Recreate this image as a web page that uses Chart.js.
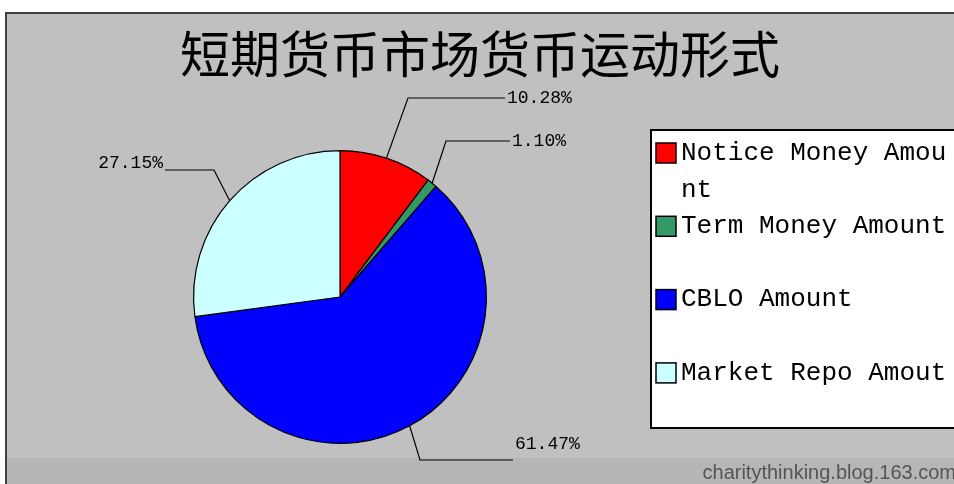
<!DOCTYPE html>
<html>
<head>
<meta charset="utf-8">
<script src="https://cdn.jsdelivr.net/npm/chart.js@4/dist/chart.umd.min.js"></script>
<style>
  html, body { margin: 0; padding: 0; background: #fff; }
  canvas { display: block; }
</style>
</head>
<body>
<canvas id="money-chart" width="954" height="484"></canvas>
<script>
// chart data
const titleText = '短期货币市场货币运动形式';
const categories = ['Notice Money Amount', 'Term Money Amount', 'CBLO Amount', 'Market Repo Amout'];
const shares = [10.28, 1.10, 61.47, 27.15];
const sliceColors = ['#ff0000', '#339966', '#0000ff', '#ccffff'];
const watermark = 'charitythinking.blog.163.com';

const monoFont = '"Liberation Mono", "DejaVu Sans Mono", monospace';

// elbow point + end of the horizontal leader for each label
const labelLayout = [
  { elbow: [408, 98], end: 505, side: 'right' },
  { elbow: [446, 141], end: 510, side: 'right' },
  { elbow: [420, 460], end: 513, side: 'right' },
  { elbow: [214, 170], end: 165, side: 'left' }
];

/**
 * Frame, grey background and bottom strip
 */
const backgroundPlugin = {
  id: 'frameBackground',
  beforeDraw(chart) {
    const ctx = chart.ctx;
    ctx.save();
    ctx.fillStyle = '#ffffff';
    ctx.fillRect(0, 0, chart.width, chart.height);
    ctx.fillStyle = '#c0c0c0';
    ctx.fillRect(5, 12, chart.width - 5, chart.height - 12);
    ctx.fillStyle = '#b6b6b6';
    ctx.fillRect(5, 458, chart.width - 5, chart.height - 458);
    ctx.strokeStyle = '#404040';
    ctx.lineWidth = 2;
    ctx.beginPath();
    ctx.moveTo(6, chart.height);
    ctx.lineTo(6, 13);
    ctx.lineTo(chart.width, 13);
    ctx.stroke();
    ctx.restore();
  }
};

/**
 * Title, percentage labels with leader lines, boxed legend, watermark
 */
const decorPlugin = {
  id: 'decor',
  afterDraw(chart) {
    const ctx = chart.ctx;
    const meta = chart.getDatasetMeta(0);
    ctx.save();

    // title
    ctx.fillStyle = '#000';
    ctx.font = '400 50px "Noto Sans CJK SC", sans-serif';
    ctx.textAlign = 'center';
    ctx.textBaseline = 'middle';
    ctx.fillText(titleText, 480, 54);

    // leader lines + labels
    ctx.font = '18px ' + monoFont;
    ctx.textBaseline = 'middle';
    meta.data.forEach((arc, i) => {
      const p = arc.getProps(['x', 'y', 'startAngle', 'endAngle', 'outerRadius'], true);
      const mid = (p.startAngle + p.endAngle) / 2;
      const sx = p.x + Math.cos(mid) * p.outerRadius;
      const sy = p.y + Math.sin(mid) * p.outerRadius;
      const lay = labelLayout[i];
      ctx.strokeStyle = '#000';
      ctx.lineWidth = 1.2;
      ctx.beginPath();
      ctx.moveTo(sx, sy);
      ctx.lineTo(lay.elbow[0], lay.elbow[1]);
      ctx.lineTo(lay.end, lay.elbow[1]);
      ctx.stroke();
      const txt = shares[i].toFixed(2) + '%';
      if (lay.side === 'right') {
        ctx.textAlign = 'left';
        ctx.fillText(txt, lay.end + 2, lay.elbow[1] - (i === 2 ? 16 : 0));
      } else {
        ctx.textAlign = 'right';
        ctx.fillText(txt, lay.end - 2, lay.elbow[1] - 7);
      }
    });

    // legend box
    ctx.fillStyle = '#ffffff';
    ctx.fillRect(651, 130, 310, 298);
    ctx.strokeStyle = '#000';
    ctx.lineWidth = 2;
    ctx.strokeRect(651, 130, 310, 298);

    ctx.font = '26px ' + monoFont;
    ctx.textAlign = 'left';
    ctx.textBaseline = 'middle';
    const maxW = 268;
    categories.forEach((name, i) => {
      const rowY = 153 + i * 73.3;
      ctx.fillStyle = sliceColors[i];
      ctx.fillRect(656, rowY - 10, 20, 20);
      ctx.strokeStyle = '#000';
      ctx.lineWidth = 1.5;
      ctx.strokeRect(656, rowY - 10, 20, 20);
      // char-wise wrap like the original
      const lines = [];
      let cur = '';
      for (const ch of name) {
        if (ctx.measureText(cur + ch).width > maxW) {
          lines.push(cur);
          cur = ch;
        } else {
          cur += ch;
        }
      }
      lines.push(cur);
      ctx.fillStyle = '#000';
      lines.forEach((ln, k) => {
        ctx.fillText(k === 0 ? ln : ln.trimStart(), 681, rowY + k * 37);
      });
    });

    // watermark
    ctx.font = '20px "Liberation Sans", Arial, sans-serif';
    ctx.fillStyle = '#555';
    ctx.textAlign = 'right';
    ctx.textBaseline = 'alphabetic';
    ctx.fillText(watermark, 956, 479);

    ctx.restore();
  }
};

new Chart(document.getElementById('money-chart'), {
  type: 'pie',
  data: {
    labels: categories,
    datasets: [{
      data: shares,
      backgroundColor: sliceColors,
      borderColor: '#000',
      borderWidth: 1.2
    }]
  },
  options: {
    responsive: false,
    animation: false,
    layout: {
      padding: { left: 193, right: 467, top: 150, bottom: 40 }
    },
    plugins: {
      legend: { display: false },
      title: { display: false },
      tooltip: { enabled: false }
    }
  },
  plugins: [backgroundPlugin, decorPlugin]
});
</script>
</body>
</html>
